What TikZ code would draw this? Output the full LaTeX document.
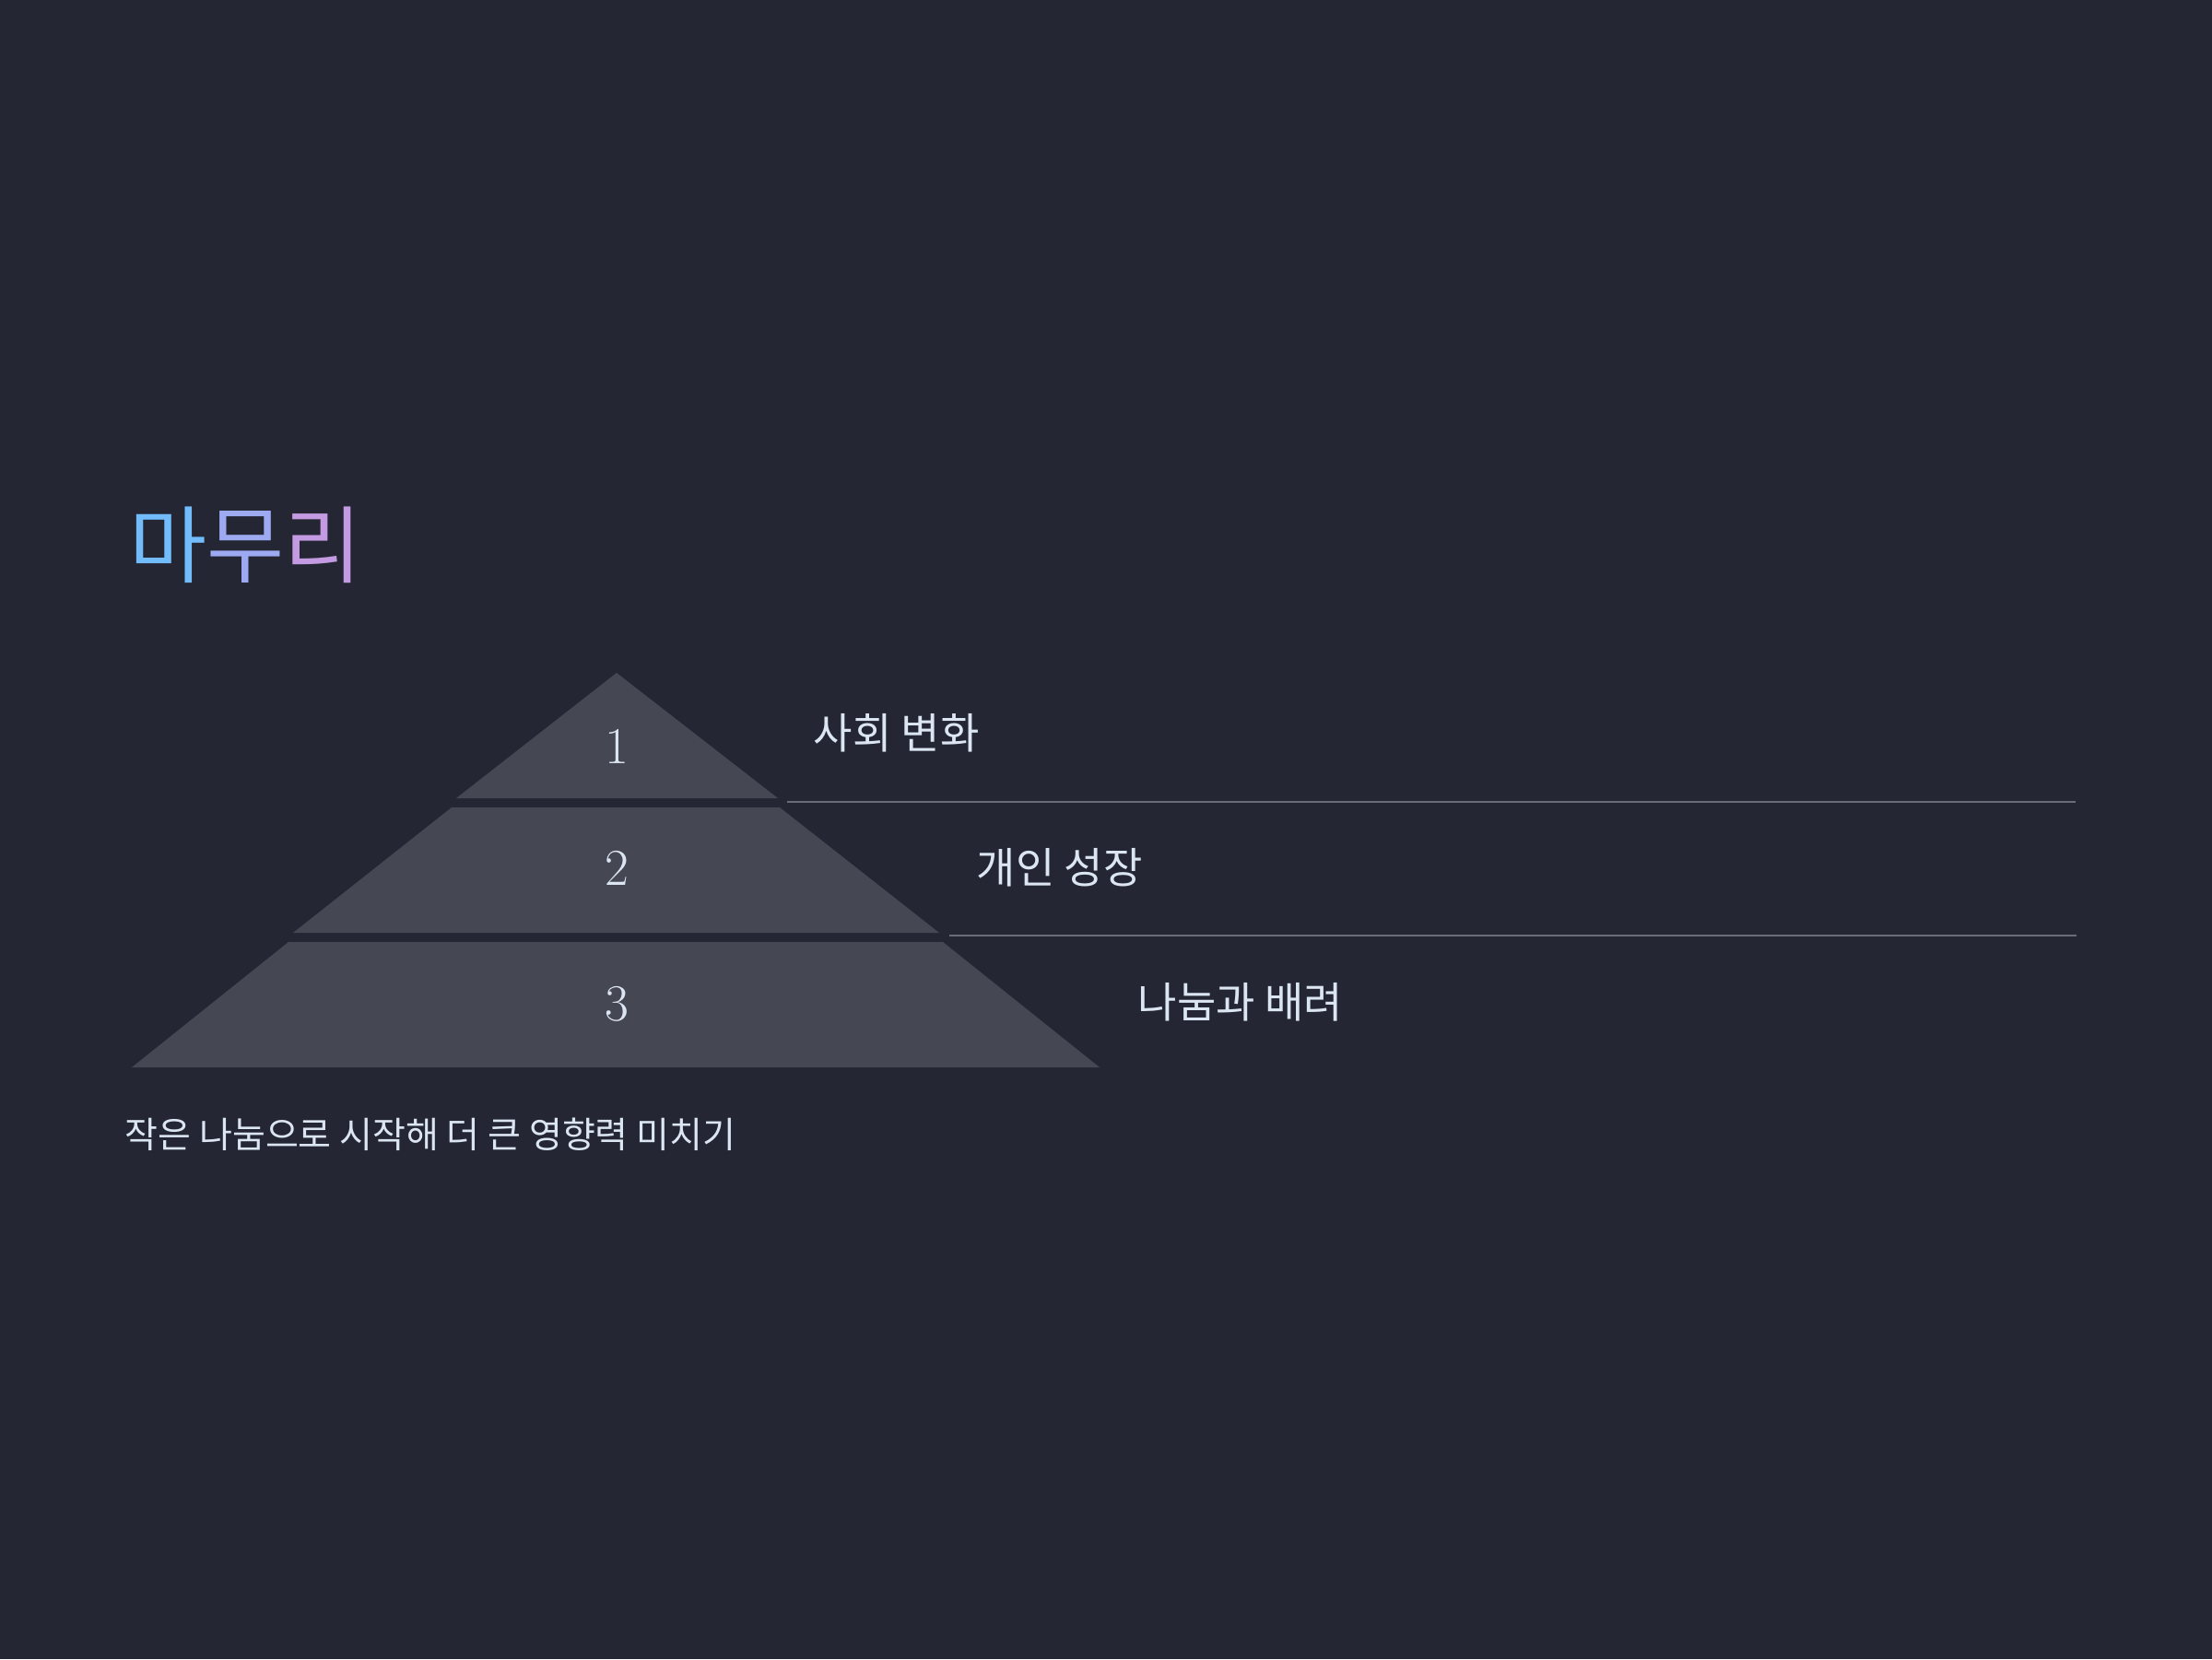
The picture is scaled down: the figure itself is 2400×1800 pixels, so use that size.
\documentclass[tikz,border=0pt]{standalone}
\usepackage{fontspec}
\newfontfamily\krfont{Noto Sans CJK KR}
\usepackage{tikz}
\usetikzlibrary{positioning,calc}
\definecolor{bgdark}{HTML}{242733}
\definecolor{tierfill}{HTML}{454753}
\definecolor{inklight}{HTML}{DCE6F2}
\definecolor{rulegray}{HTML}{6A6D78}
\definecolor{titleA}{HTML}{72BCFC}
\definecolor{titleB}{HTML}{9DAAF1}
\definecolor{titleC}{HTML}{C49BE2}
\tikzset{
    % Define style for the tier numbers
    num/.style={
           text=inklight,
           inner sep=0pt,
           font=\fontsize{16}{16}\selectfont},
    % Define style for the labels
    lbl/.style={
           text=inklight,
           inner sep=0pt,
           anchor=west,
           font=\krfont\fontsize{13.1}{13.1}\selectfont},
    % Define style for the pyramid tiers
    tier/.style={
           fill=tierfill},
    % Define style for the separator lines
    sep/.style={
           draw=rulegray,
           line width=0.55pt}
}

\begin{document}
\begin{tikzpicture}[x=0.1mm, y=-0.1mm]
	\fill[bgdark] (0,0) rectangle (2400,1800);
	\useasboundingbox (0,0) rectangle (2400,1800);

	% Title
	\node[inner sep=0pt, anchor=west, font=\krfont\fontsize{26}{26}\selectfont] (title) at (140,591)
	     {\textcolor{titleA}{마}\textcolor{titleB}{무}\textcolor{titleC}{리}};

	% Pyramid corners
	\coordinate (apex) at (669,730);
	\coordinate (t1-r) at (844,866);  \coordinate (t1-l) at (495,866);
	\coordinate (t2-tl) at (490,876); \coordinate (t2-tr) at (846,876);
	\coordinate (t2-r) at (1019,1012); \coordinate (t2-l) at (318,1012);
	\coordinate (t3-tl) at (313,1022); \coordinate (t3-tr) at (1023,1022);
	\coordinate (t3-r) at (1193,1158); \coordinate (t3-l) at (143,1158);

	% Tiers
	\fill[tier] (apex) -- (t1-r) -- (t1-l) -- cycle;
	\fill[tier] (t2-tl) -- (t2-tr) -- (t2-r) -- (t2-l) -- cycle;
	\fill[tier] (t3-tl) -- (t3-tr) -- (t3-r) -- (t3-l) -- cycle;

	\node[num] (n1) at (669,810) {1};
	\node[num] (n2) at (669,942) {2};
	\node[num] (n3) at (669,1089) {3};

	% Labels and separators
	\node[lbl] (social) at (882,795) {사회 변화};
	\node[lbl] (growth) at (1059,941) {개인 성장};
	\node[lbl] (care) at (1234,1087) {나눔과 배려};

	\coordinate (s1-a) at (854,870);   \coordinate (s1-b) at (2252,870);
	\coordinate (s2-a) at (1030,1015); \coordinate (s2-b) at (2253,1015);
	\draw[sep] (s1-a) -- (s1-b);
	\draw[sep] (s2-a) -- (s2-b);

	% Closing line
	\node[lbl, font=\krfont\fontsize{11.1}{11.1}\selectfont] (motto) at (135,1231)
	     {작은 나눔으로 시작해 더 큰 영향력 미치기};
\end{tikzpicture}
\end{document}
